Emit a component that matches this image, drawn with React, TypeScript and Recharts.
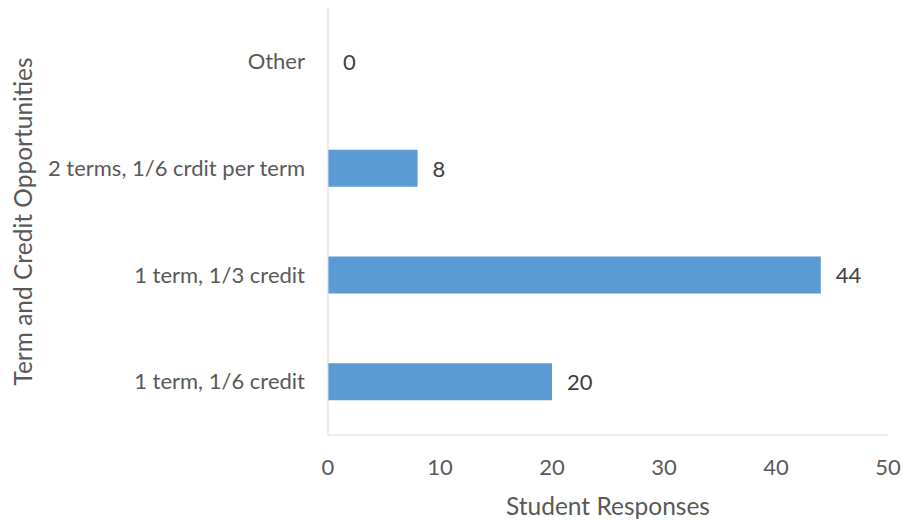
import { Bar, ComposedChart, Line, XAxis, YAxis, LabelList } from 'recharts';

const categories = ['Other', '2 terms, 1/6 crdit per term', '1 term, 1/3 credit', '1 term, 1/6 credit'];
const responses = [0, 8, 44, 20];
const xTicks = [0, 10, 20, 30, 40, 50];

const data = categories.map((name, i) => ({ name, value: responses[i] }));

const FONT = 'Lato, "Open Sans", sans-serif';

// the zero bar has no rect, so its label never shows; labels ride on an invisible line instead
const ValueLabel = (props: any) => {
  const { x, y, value } = props;
  return (
    <text
      x={Number(x) + 15}
      y={Number(y)}
      dominantBaseline="central"
      textAnchor="start"
      fill="#404040"
      fontSize={22}
    >
      {String(value ?? 0)}
    </text>
  );
};

export default function App() {
  return (
    <div style={{ position: 'absolute', left: 0, top: 0, width: 903, height: 522, background: '#fff', fontFamily: FONT }}>
      <ComposedChart
        width={903}
        height={522}
        data={data}
        layout="vertical"
        margin={{ top: 8, right: 15, bottom: 7, left: 0 }}
      >
        <XAxis
          type="number"
          domain={[0, 50]}
          ticks={xTicks}
          height={80}
          stroke="#D9D9D9"
          tickLine={false}
          tickMargin={18}
          tick={{ fill: '#595959', fontSize: 22 }}
          label={{ value: 'Student Responses', position: 'insideBottom', offset: 0, fill: '#595959', fontSize: 24.5 }}
        />
        <YAxis
          type="category"
          dataKey="name"
          width={328}
          stroke="#D9D9D9"
          tickLine={false}
          tickMargin={17}
          tick={{ fill: '#595959', fontSize: 22 }}
          label={{
            content: ({ viewBox }: any) => (
              <text
                x={viewBox.x + 22}
                y={viewBox.y + viewBox.height / 2}
                transform={`rotate(-90, ${viewBox.x + 22}, ${viewBox.y + viewBox.height / 2})`}
                textAnchor="middle"
                dominantBaseline="central"
                fill="#595959"
                fontSize={24.5}
              >
                Term and Credit Opportunities
              </text>
            ),
          }}
        />
        <Bar dataKey="value" fill="#5B9BD5" barSize={37} isAnimationActive={false} />
        <Line
          dataKey="value"
          stroke="none"
          dot={false}
          activeDot={false}
          legendType="none"
          isAnimationActive={false}
        >
          <LabelList dataKey="value" valueAccessor={(entry: any) => String(entry.value)} content={ValueLabel} />
        </Line>
      </ComposedChart>
    </div>
  );
}
